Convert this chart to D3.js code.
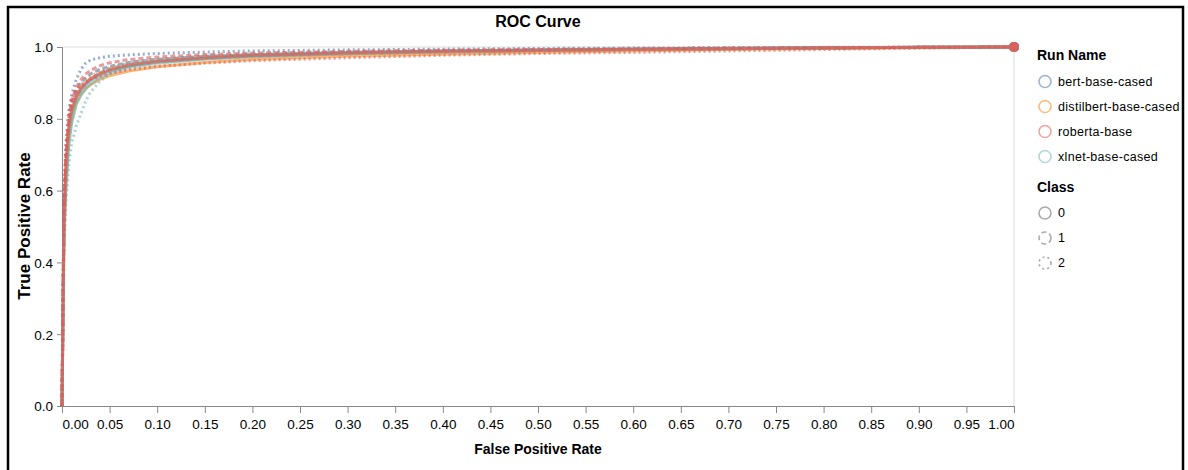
<!DOCTYPE html>
<html>
<head>
<meta charset="utf-8">
<script src="https://cdn.jsdelivr.net/npm/d3@7"></script>
<style>
  html, body { margin: 0; padding: 0; background: #fff; }
  svg { display: block; font-family: "Liberation Sans", Arial, sans-serif; }
</style>
</head>
<body>
<svg id="chart" width="1188" height="470"></svg>
<script>
// ---- data ----
const runNames = ["bert-base-cased", "distilbert-base-cased", "roberta-base", "xlnet-base-cased"];
const classNames = ["0", "1", "2"];
const xTicks = [0, 0.05, 0.1, 0.15, 0.2, 0.25, 0.3, 0.35, 0.4, 0.45, 0.5, 0.55, 0.6, 0.65, 0.7, 0.75, 0.8, 0.85, 0.9, 0.95, 1.0];
const yTicks = [0, 0.2, 0.4, 0.6, 0.8, 1.0];

// false positive rate thresholds shared by every curve
const fpr = [0, 0.002, 0.004, 0.007, 0.01, 0.015, 0.02, 0.025, 0.03, 0.04, 0.05, 0.07, 0.1, 0.15, 0.2, 0.3, 0.4, 0.5, 0.6, 0.7, 0.8, 0.9, 1];

// true positive rate per class (0, 1, 2) for each run
const bertTpr = [
  [0, .50, .65, .76, .815, .86, .882, .897, .908, .923, .934, .947, .958, .968, .975, .982, .987, .990, .993, .995, .997, .999, 1],
  [0, .52, .68, .78, .84, .88, .90, .915, .925, .938, .946, .957, .966, .974, .979, .985, .989, .992, .994, .996, .998, .999, 1],
  [0, .56, .71, .81, .865, .91, .938, .955, .964, .970, .974, .978, .982, .986, .989, .992, .994, .996, .997, .998, .999, 1, 1]
];
const distilbertTpr = [
  [0, .47, .62, .74, .795, .845, .868, .884, .895, .91, .92, .933, .945, .957, .965, .974, .98, .985, .989, .993, .996, .998, 1],
  [0, .49, .64, .76, .815, .858, .884, .9, .911, .925, .935, .948, .958, .968, .974, .981, .986, .99, .993, .995, .997, .999, 1],
  [0, .52, .67, .78, .835, .873, .895, .909, .918, .932, .942, .955, .964, .973, .978, .984, .988, .991, .993, .995, .997, .999, 1]
];
const robertaTpr = [
  [0, .52, .67, .78, .825, .863, .886, .9, .912, .927, .937, .95, .96, .97, .976, .983, .988, .991, .994, .996, .998, .999, 1],
  [0, .54, .70, .80, .85, .888, .91, .925, .935, .948, .956, .965, .972, .979, .983, .988, .991, .993, .995, .997, .998, .999, 1],
  [0, .57, .73, .82, .855, .878, .892, .901, .909, .918, .926, .937, .946, .955, .962, .970, .977, .982, .985, .989, .993, .997, 1]
];
const xlnetTpr = [
  [0, .46, .60, .72, .785, .84, .866, .884, .897, .915, .928, .943, .955, .966, .973, .981, .986, .99, .993, .995, .997, .999, 1],
  [0, .48, .62, .74, .80, .85, .878, .896, .91, .928, .94, .955, .965, .975, .98, .986, .99, .993, .995, .997, .998, .999, 1],
  [0, .43, .56, .67, .73, .78, .815, .85, .875, .905, .925, .945, .96, .972, .978, .985, .989, .992, .995, .997, .998, .999, 1]
];

// ---- styling ----
const runColors = ["#4c78a8", "#f58518", "#e45756", "#72b7b2"];
const classDash = [null, "5,3", "2,3"];
const tprByRun = [bertTpr, distilbertTpr, robertaTpr, xlnetTpr];
const drawOrder = [0, 1, 3, 2];

const svg = d3.select("#chart");
const plot = { left: 62, right: 1014, top: 47, bottom: 406 };

const x = d3.scaleLinear().domain([0, 1]).range([plot.left, plot.right]);
const y = d3.scaleLinear().domain([0, 1]).range([plot.bottom, plot.top]);
const color = d3.scaleOrdinal().domain(runNames).range(runColors);
const dash = d3.scaleOrdinal().domain(classNames).range(classDash);

// outer frame
svg.append("rect")
  .attr("x", 8).attr("y", 7).attr("width", 1175).attr("height", 480)
  .attr("fill", "none").attr("stroke", "#000").attr("stroke-width", 2.5);

// view border (top and right)
svg.append("path")
  .attr("d", `M${plot.left},${plot.top}H${plot.right}V${plot.bottom}`)
  .attr("fill", "none").attr("stroke", "#ddd").attr("stroke-width", 1);

// axes
const xAxis = svg.append("g")
  .attr("transform", `translate(0,${plot.bottom})`)
  .call(d3.axisBottom(x).tickValues(xTicks).tickFormat(d3.format(".2f")).tickSize(7).tickPadding(6));
const yAxis = svg.append("g")
  .attr("transform", `translate(${plot.left},0)`)
  .call(d3.axisLeft(y).tickValues(yTicks).tickFormat(d3.format(".1f")).tickSize(5).tickPadding(4));

[xAxis, yAxis].forEach(g => {
  g.select(".domain").attr("stroke", "#888");
  g.selectAll(".tick line").attr("stroke", "#888");
  g.selectAll(".tick text").attr("fill", "#000").attr("font-size", 13.5)
    .attr("font-family", "Liberation Sans, Arial, sans-serif");
});
// flush first and last x labels inside the axis extent
xAxis.selectAll(".tick text")
  .attr("text-anchor", (d, i) => i === 0 ? "start" : (i === xTicks.length - 1 ? "end" : "middle"))
  .attr("dy", "0.75em");
yAxis.selectAll(".tick text").attr("dy", "0.36em");

// curves
const line = d3.line()
  .x((d, i) => x(fpr[i]))
  .y(d => y(d));

const curves = svg.append("g");
drawOrder.forEach(r => {
  tprByRun[r].forEach((tpr, c) => {
    curves.append("path")
      .datum(tpr)
      .attr("d", line)
      .attr("fill", "none")
      .attr("stroke", color(runNames[r]))
      .attr("stroke-width", 3)
      .attr("stroke-opacity", 0.6)
      .attr("stroke-dasharray", dash(classNames[c]));
  });
});
// end points of each curve
drawOrder.forEach(r => {
  tprByRun[r].forEach(tpr => {
    const n = tpr.length - 1;
    curves.append("circle")
      .attr("cx", x(fpr[n])).attr("cy", y(tpr[n])).attr("r", 5)
      .attr("fill", color(runNames[r])).attr("fill-opacity", 0.5);
  });
});

// titles
svg.append("text")
  .attr("x", (plot.left + plot.right) / 2).attr("y", 27)
  .attr("text-anchor", "middle").attr("font-size", 16).attr("font-weight", "bold")
  .text("ROC Curve");
svg.append("text")
  .attr("x", (plot.left + plot.right) / 2).attr("y", 454)
  .attr("text-anchor", "middle").attr("font-size", 14).attr("font-weight", "bold")
  .text("False Positive Rate");
svg.append("text")
  .attr("transform", `translate(30,226) rotate(-90)`)
  .attr("text-anchor", "middle").attr("font-size", 17).attr("font-weight", "bold")
  .text("True Positive Rate");

// legends
const legend = svg.append("g").attr("transform", "translate(1037,0)");
legend.append("text").attr("x", 0).attr("y", 60)
  .attr("font-size", 14).attr("font-weight", "bold").text("Run Name");
runNames.forEach((name, i) => {
  const cy = 81.5 + i * 25;
  legend.append("circle").attr("cx", 8).attr("cy", cy).attr("r", 6)
    .attr("fill", "none").attr("stroke", color(name)).attr("stroke-opacity", 0.55).attr("stroke-width", 1.6);
  legend.append("text").attr("x", 21).attr("y", cy).attr("dy", "0.35em")
    .attr("font-size", 12.5).attr("letter-spacing", 0.3).text(name);
});
legend.append("text").attr("x", 0).attr("y", 192)
  .attr("font-size", 14).attr("font-weight", "bold").text("Class");
classNames.forEach((name, i) => {
  const cy = 213 + i * 25;
  legend.append("circle").attr("cx", 8).attr("cy", cy).attr("r", 6)
    .attr("fill", "none").attr("stroke", "#aaa").attr("stroke-width", 1.6)
    .attr("stroke-dasharray", dash(name));
  legend.append("text").attr("x", 21).attr("y", cy).attr("dy", "0.35em")
    .attr("font-size", 12.5).text(name);
});
</script>
</body>
</html>
